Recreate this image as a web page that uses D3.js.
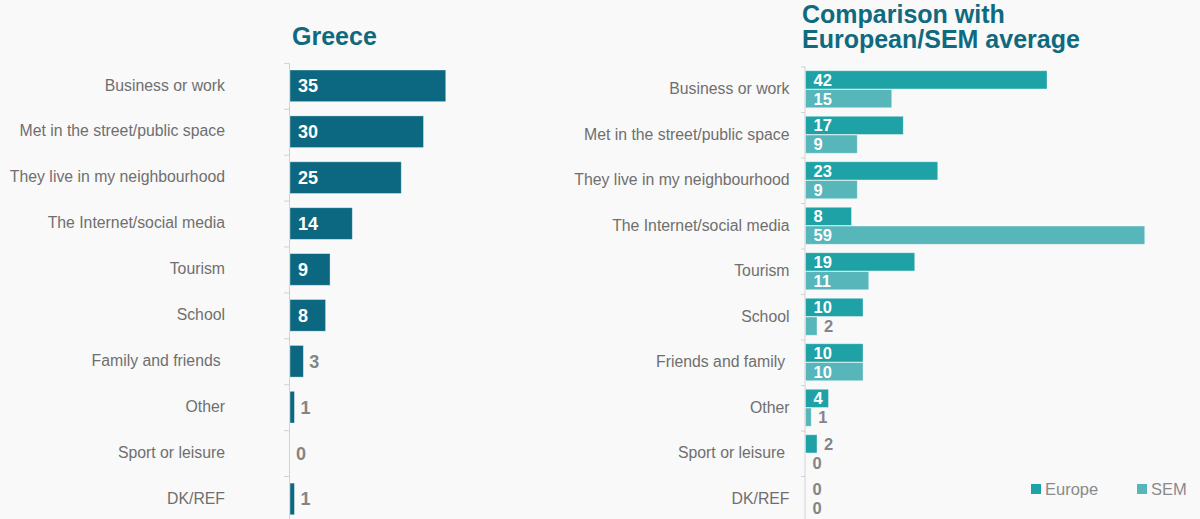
<!DOCTYPE html>
<html>
<head>
<meta charset="utf-8">
<script src="https://cdn.jsdelivr.net/npm/d3@7/dist/d3.min.js"></script>
<style>
  html, body { margin: 0; padding: 0; background: #f9f9f9; }
  svg { display: block; font-family: "Liberation Sans", Arial, Helvetica, sans-serif; }
  .cat { white-space: pre; }
</style>
</head>
<body>
<svg id="chart" width="1200" height="519"></svg>
<script>
// How people met: Greece vs European / SEM averages (%)
const greeceCategories = ["Business or work", "Met in the street/public space", "They live in my neighbourhood",
  "The Internet/social media", "Tourism", "School", "Family and friends ", "Other", "Sport or leisure", "DK/REF"];
const greeceValues = [35, 30, 25, 14, 9, 8, 3, 1, 0, 1];

const compareCategories = ["Business or work", "Met in the street/public space", "They live in my neighbourhood",
  "The Internet/social media", "Tourism", "School", "Friends and family ", "Other", "Sport or leisure ", "DK/REF"];
const europeValues = [42, 17, 23, 8, 19, 10, 10, 4, 2, 0];
const semValues = [15, 9, 9, 59, 11, 2, 10, 1, 0, 0];
const seriesNames = ["Europe", "SEM"];

const colors = { greece: "#0c6780", Europe: "#1fa2a6", SEM: "#56b6ba", title: "#0f6a80",
  axis: "#d2d2d2", label: "#6f6f6f", valueOut: "#858585", legend: "#8a8a8a" };

const svg = d3.select("#chart");

// ---------- Left panel: Greece ----------
const gl = svg.append("g");
const yL = d3.scaleBand().domain(greeceCategories).range([63.3, 521.5]).paddingInner(0.31).paddingOuter(0.146);
const xL = d3.scaleLinear().domain([0, 40]).range([290, 290 + 178]);

gl.append("text").attr("x", 292).attr("y", 45)
  .attr("font-size", 25).attr("font-weight", "bold").attr("fill", colors.title).text("Greece");

const axL = d3.axisLeft(yL).tickSize(0).tickPadding(64.5);
gl.append("g").attr("transform", `translate(${xL(0) - 0.5},0)`).call(axL)
  .call(g => g.select(".domain").remove())
  .call(g => g.selectAll("text").attr("class", "cat").attr("font-size", 15.8)
    .attr("fill", colors.label).attr("font-family", null).attr("dy", "0.3em"));

gl.append("line").attr("x1", xL(0) - 0.5).attr("x2", xL(0) - 0.5)
  .attr("y1", yL.range()[0]).attr("y2", 519).attr("stroke", colors.axis);
gl.selectAll("line.tk").data(greeceCategories).join("line").attr("class", "tk")
  .attr("x1", xL(0) - 6).attr("x2", xL(0) - 0.5)
  .attr("y1", d => yL(d) - yL.step() * yL.paddingInner() / 2 + 0.5)
  .attr("y2", d => yL(d) - yL.step() * yL.paddingInner() / 2 + 0.5)
  .attr("stroke", colors.axis);

const dataL = greeceCategories.map((c, i) => ({ c, v: greeceValues[i] }));
gl.selectAll("rect.bar").data(dataL.filter(d => d.v > 0)).join("rect").attr("class", "bar")
  .attr("x", xL(0)).attr("y", d => yL(d.c))
  .attr("width", d => xL(d.v) - xL(0)).attr("height", yL.bandwidth())
  .attr("fill", colors.greece).attr("stroke", "rgba(255,255,255,0.45)").attr("stroke-width", 0.8);

gl.selectAll("text.val").data(dataL).join("text").attr("class", "val")
  .attr("x", d => d.v >= 4 ? xL(0) + 8 : xL(d.v) + 6)
  .attr("y", d => yL(d.c) + yL.bandwidth() / 2).attr("dy", "0.36em")
  .attr("font-size", 18).attr("font-weight", "bold")
  .attr("fill", d => d.v >= 4 ? "#ffffff" : colors.valueOut)
  .text(d => d.v);

// ---------- Right panel: comparison ----------
const gr = svg.append("g");
const yR = d3.scaleBand().domain(compareCategories).range([66.5, 521.5]).paddingInner(0.187).paddingOuter(0.0935);
const ySub = d3.scaleBand().domain(seriesNames).range([0, yR.bandwidth()]).paddingInner(0.03);
const xR = d3.scaleLinear().domain([0, 60]).range([805.5, 805.5 + 345]);

const titleR = gr.append("text").attr("x", 802).attr("font-size", 25).attr("font-weight", "bold").attr("fill", colors.title);
titleR.append("tspan").attr("x", 802).attr("y", 22.5).text("Comparison with");
titleR.append("tspan").attr("x", 802).attr("y", 47.5).text("European/SEM average");

const axR = d3.axisLeft(yR).tickSize(0).tickPadding(15.5);
gr.append("g").attr("transform", `translate(${xR(0) - 0.5},0)`).call(axR)
  .call(g => g.select(".domain").remove())
  .call(g => g.selectAll("text").attr("class", "cat").attr("font-size", 15.8)
    .attr("fill", colors.label).attr("font-family", null).attr("dy", "0.3em"));

gr.append("line").attr("x1", xR(0) - 0.5).attr("x2", xR(0) - 0.5)
  .attr("y1", yR.range()[0]).attr("y2", 519).attr("stroke", colors.axis);
gr.selectAll("line.tk").data(compareCategories).join("line").attr("class", "tk")
  .attr("x1", xR(0) - 4.5).attr("x2", xR(0) - 0.5)
  .attr("y1", d => yR(d) - yR.step() * yR.paddingInner() / 2 + 0.5)
  .attr("y2", d => yR(d) - yR.step() * yR.paddingInner() / 2 + 0.5)
  .attr("stroke", colors.axis);

const dataR = [];
compareCategories.forEach((c, i) => {
  dataR.push({ c, s: "Europe", v: europeValues[i] });
  dataR.push({ c, s: "SEM", v: semValues[i] });
});

gr.selectAll("rect.bar").data(dataR.filter(d => d.v > 0)).join("rect").attr("class", "bar")
  .attr("x", xR(0)).attr("y", d => yR(d.c) + ySub(d.s))
  .attr("width", d => xR(d.v) - xR(0)).attr("height", ySub.bandwidth())
  .attr("fill", d => colors[d.s]).attr("stroke", "rgba(255,255,255,0.45)").attr("stroke-width", 0.8);

gr.selectAll("text.val").data(dataR).join("text").attr("class", "val")
  .attr("x", d => d.v >= 4 ? xR(0) + 8 : xR(d.v) + 7)
  .attr("y", d => yR(d.c) + ySub(d.s) + ySub.bandwidth() / 2).attr("dy", "0.37em")
  .attr("font-size", 16.5).attr("font-weight", "bold")
  .attr("fill", d => d.v >= 4 ? "#ffffff" : colors.valueOut)
  .text(d => d.v);

// Legend
const legendX = d3.scalePoint().domain(seriesNames).range([1031, 1137]);
const lg = gr.selectAll("g.lg").data(seriesNames).join("g").attr("class", "lg")
  .attr("transform", d => `translate(${legendX(d)},484)`);
lg.append("rect").attr("width", 10).attr("height", 10).attr("fill", d => colors[d]);
lg.append("text").attr("x", 14).attr("y", 5).attr("dy", "0.36em")
  .attr("font-size", 16.5).attr("fill", colors.legend).text(d => d);
</script>
</body>
</html>
